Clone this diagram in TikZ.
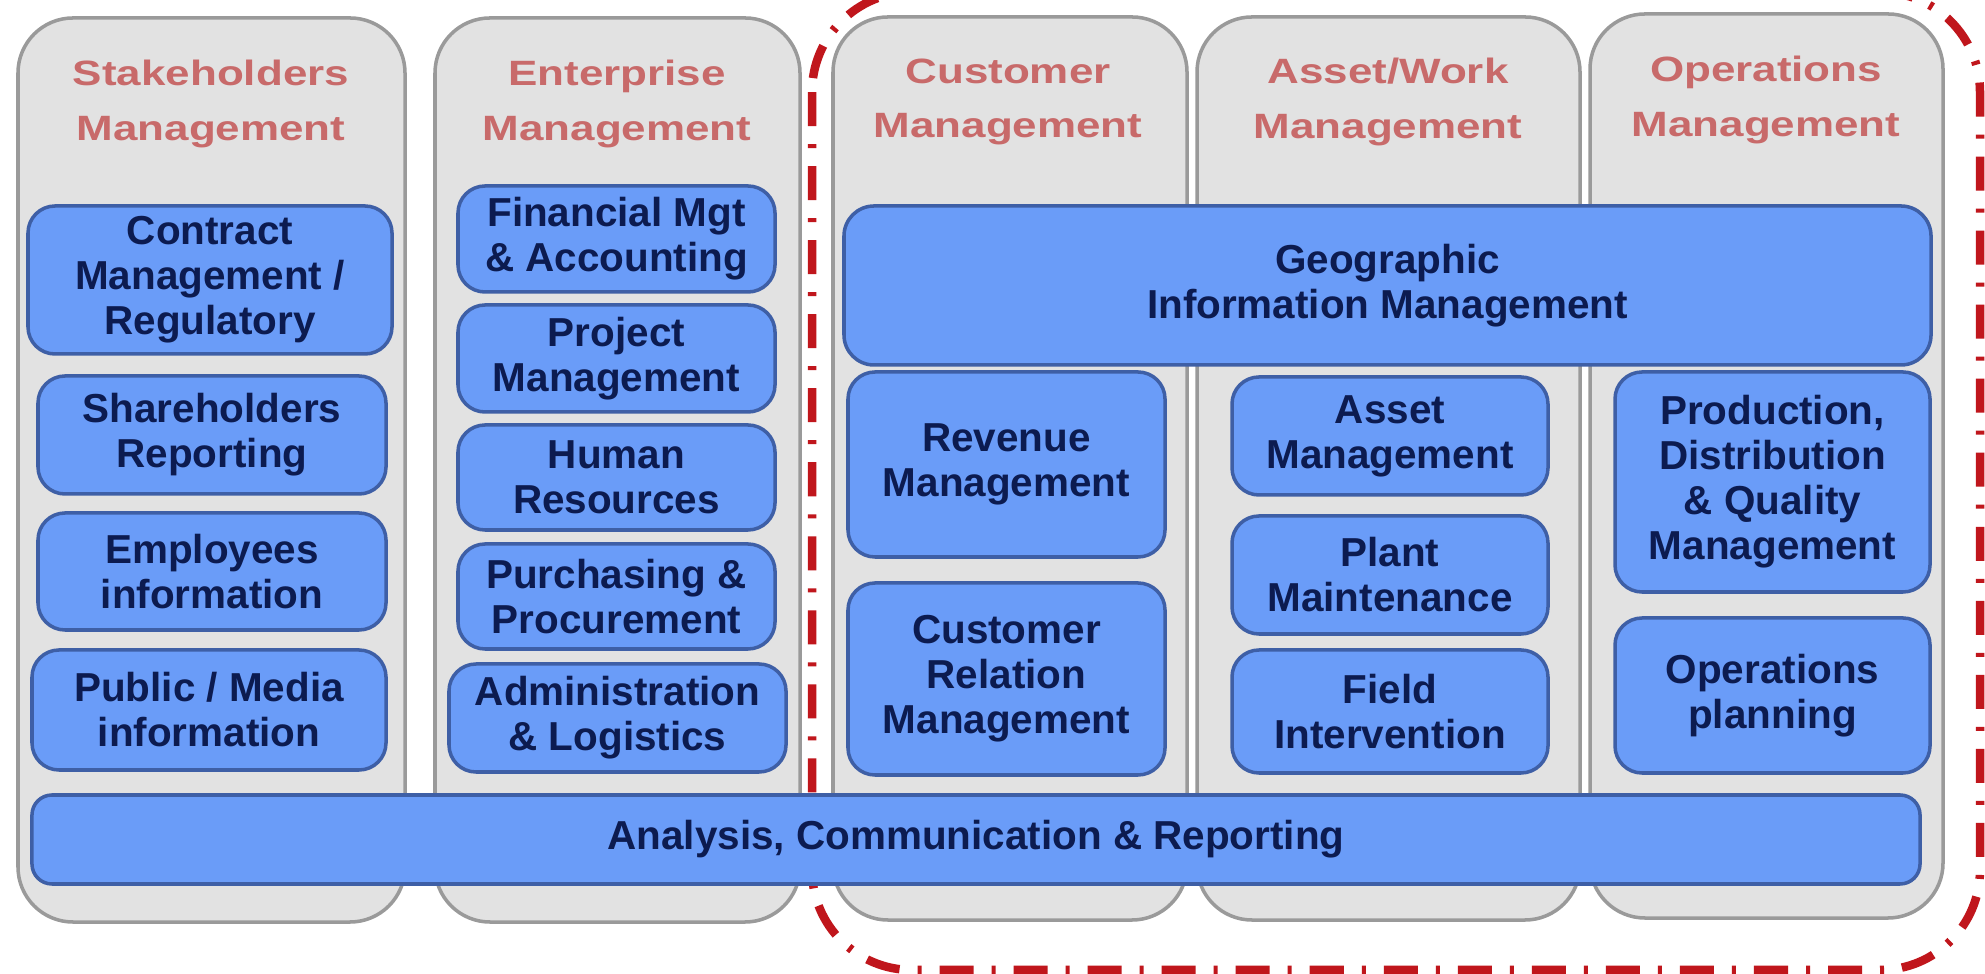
\documentclass[tikz,border=0pt]{standalone}
\usepackage{fontspec}
\setmainfont{Liberation Sans}
\newfontfamily\hdrfont[FakeStretch=1.25]{Liberation Sans}
\definecolor{colfill}{HTML}{E2E2E2}
\definecolor{coldraw}{HTML}{9A9A9A}
\definecolor{boxfill}{HTML}{6A9CF8}
\definecolor{boxdraw}{HTML}{3E5FA6}
\definecolor{boxtext}{HTML}{0C1B50}
\definecolor{hdrtext}{HTML}{C86A6A}
\definecolor{bndred}{HTML}{C0161C}
% [options]{name}{x1}{y1}{x2}{y2}{text}
\newcommand\mybox[7][]{%
  \pgfmathsetmacro\bxw{(#5-#3)*0.01}%
  \pgfmathsetmacro\bxh{(#6-#4)*0.01}%
  \node[fnbox,#1,minimum width=\bxw cm,minimum height=\bxh cm] (#2) at ({(#3+#5)/2},{(#4+#6)/2}) {#7};}
\begin{document}
\begin{tikzpicture}[x=0.01cm,y=-0.01cm,
  colbox/.style={draw=coldraw, fill=colfill, line width=1pt, rounded corners=0.55cm, inner sep=0pt},
  hdrnode/.style={text=hdrtext, font=\hdrfont\bfseries\fontsize{10}{15.4}\selectfont, align=center, inner sep=0pt},
  fnbox/.style={draw=boxdraw, fill=boxfill, line width=1pt, rounded corners=0.27cm, inner sep=0pt, text=boxtext, font=\bfseries\fontsize{11.5}{12.8}\selectfont, align=center},
  boundary/.style={draw=bndred, line width=0.085cm, dash pattern=on 0.34cm off 0.18cm on 0.04cm off 0.18cm, rounded corners=1cm}]
\useasboundingbox (0,0) rectangle (1985,974);
\fill[white] (0,0) rectangle (1985,974);
% red dash-dot boundary
\begin{scope}
\clip (0,0) rectangle (1985,974);
\draw[boundary] (812,-8) rectangle (1980,970);
\end{scope}
% columns
\mybox[colbox]{c1}{18}{18}{405}{922}{}
\mybox[colbox]{c2}{435}{18}{800}{922}{}
\mybox[colbox]{c3}{833}{17}{1187}{920}{}
\mybox[colbox]{c4}{1197}{17}{1580}{920}{}
\mybox[colbox]{c5}{1590}{14}{1943}{918}{}
% headers
\node[hdrnode] (h1) at (211,104) {Stakeholders\\Management};
\node[hdrnode] (h2) at (617,104) {Enterprise\\Management};
\node[hdrnode] (h3) at (1008,102) {Customer\\Management};
\node[hdrnode] (h4) at (1388,102) {Asset/Work\\Management};
\node[hdrnode] (h5) at (1766,100) {Operations\\Management};
% column 1
\mybox{cm}{28}{206}{392}{354}{Contract\\Management /\\Regulatory}
\mybox{sh}{38}{376}{386}{494}{Shareholders\\Reporting}
\mybox{em}{38}{513}{386}{630}{Employees\\information}
\mybox{pm}{32}{650}{386}{770}{Public / Media\\information}
% column 2
\mybox{fm}{458}{186}{775}{292}{Financial Mgt\\\& Accounting}
\mybox{pj}{458}{305}{775}{412}{Project\\Management}
\mybox{hr}{458}{425}{775}{530}{Human\\Resources}
\mybox{pp}{458}{544}{775}{649}{Purchasing \&\\Procurement}
\mybox{al}{449}{664}{786}{772}{Administration\\\& Logistics}
% columns 3-5
\mybox[rounded corners=0.3cm]{gi}{844}{206}{1931}{365}{Geographic\\Information Management}
\mybox{rv}{848}{372}{1165}{557}{Revenue\\Management}
\mybox{cr}{848}{583}{1165}{775}{Customer\\Relation\\Management}
\mybox{am}{1232}{377}{1548}{495}{Asset\\Management}
\mybox{pl}{1232}{516}{1548}{634}{Plant\\Maintenance}
\mybox{fi}{1232}{650}{1548}{773}{Field\\Intervention}
\mybox{pd}{1615}{372}{1930}{592}{Production,\\Distribution\\\& Quality\\Management}
\mybox{op}{1615}{618}{1930}{773}{Operations\\planning}
% bottom bar
\mybox[rounded corners=0.2cm]{ac}{32}{795}{1920}{884}{Analysis, Communication \& Reporting}
\end{tikzpicture}
\end{document}
